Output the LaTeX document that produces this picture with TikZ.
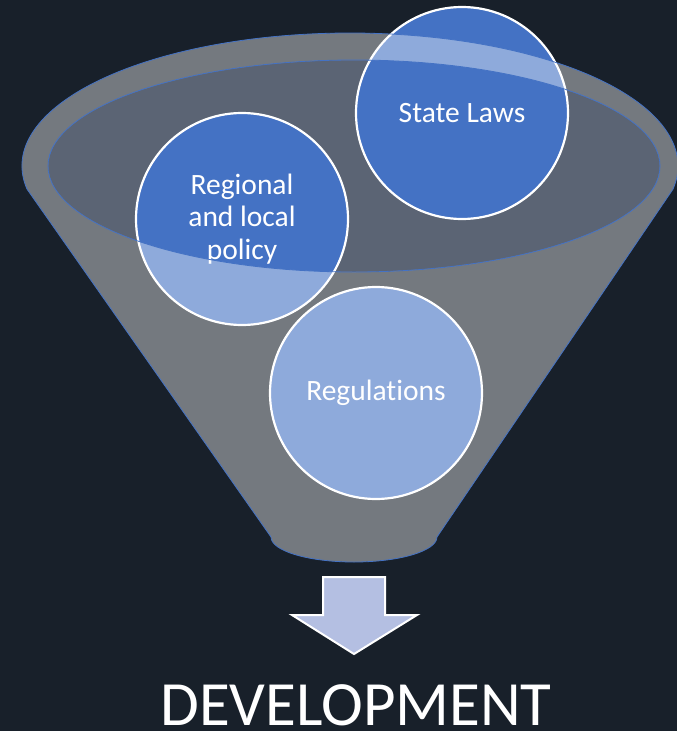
\documentclass[tikz,border=0pt]{standalone}
\usepackage{fontspec}
\setmainfont{Carlito}[RawFeature={-liga;-dlig}]
\definecolor{bg}{HTML}{18202A}
\definecolor{cblue}{HTML}{4472C4}
\definecolor{innerc}{HTML}{5B6474}
\definecolor{arrowc}{HTML}{B4BFE2}
\begin{document}
\begin{tikzpicture}[x=1pt,y=-1pt,
  bubble/.style={circle, draw=white, line width=2.2pt, fill=cblue, minimum size=212pt, inner sep=0pt, text=white, align=center, font=\fontsize{29.5}{32.5}\selectfont},
  rimline/.style={draw=cblue, line width=0.8pt},
  bodyfill/.style={fill=white, fill opacity=0.4, even odd rule},
  arrowshape/.style={fill=arrowc, draw=white, line width=2pt, line join=miter},
  title/.style={text=white, font=\fontsize{63}{70}\selectfont, inner sep=0pt, anchor=base}]
\fill[bg] (0,0) rectangle (677,731);
\useasboundingbox (0,0) rectangle (677,731);
% funnel geometry
\coordinate (oc) at (350,166);
\coordinate (ic) at (354,166);
\coordinate (tl) at (26.98,189.1);
\coordinate (tr) at (673.02,189.1);
\coordinate (br) at (437,537);
\coordinate (bl) at (271,537);
% inner ellipse (mouth)
\fill[innerc] (ic) ellipse [x radius=306, y radius=106];
% bubbles
\node[bubble] (state) at (462,113) {State Laws};
\node[bubble] (regional) at (242,219) {Regional\\and local\\policy};
\node[bubble] (regs) at (376,393) {Regulations};
% funnel body (translucent)
\path[bodyfill] (tl) arc[start angle=170, end angle=370, x radius=328, y radius=133]
   -- (br) arc[start angle=0, end angle=180, x radius=83, y radius=25] -- cycle
   (ic) ellipse [x radius=306, y radius=106];
\draw[rimline] (tl) arc[start angle=170, end angle=370, x radius=328, y radius=133]
   -- (br) arc[start angle=0, end angle=180, x radius=83, y radius=25] -- cycle;
\draw[rimline] (ic) ellipse [x radius=306, y radius=106];
% arrow
\coordinate (a1) at (323,577);
\coordinate (a2) at (385,577);
\coordinate (a3) at (385,615);
\coordinate (a4) at (417,615);
\coordinate (a5) at (354,654);
\coordinate (a6) at (292,615);
\coordinate (a7) at (323,615);
\draw[arrowshape] (a1) -- (a2) -- (a3) -- (a4) -- (a5) -- (a6) -- (a7) -- cycle;
% title
\node[title] (dev) at (356,725) {DEVELOPMENT};
\end{tikzpicture}
\end{document}
